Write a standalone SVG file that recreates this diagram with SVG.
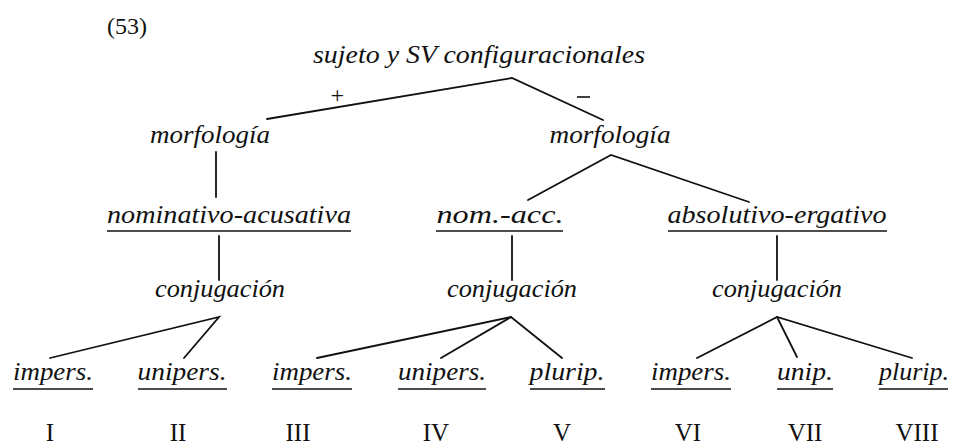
<svg xmlns="http://www.w3.org/2000/svg" width="953" height="447" viewBox="0 0 953 447">
<style>
.t{font-family:"Liberation Serif","Times New Roman",serif;font-style:italic;font-size:26px;fill:#111;text-anchor:middle}
.r{font-family:"Liberation Serif","Times New Roman",serif;font-size:25px;fill:#111;text-anchor:middle}
.e{stroke:#111;stroke-width:1.8;fill:none;stroke-linecap:round}
.u{stroke:#111;stroke-width:1.6}
</style>
<rect width="953" height="447" fill="#fff"/>
<text class="r" x="127" y="34" style="font-size:24px">(53)</text>
<g id="connectors">
<polyline class="e" points="267,119 512,78 603,120"/>
<line class="e" x1="216" y1="152" x2="216" y2="197"/>
<line class="e" x1="219" y1="236" x2="219" y2="280"/>
<polyline class="e" points="528,200 611,155 749,202"/>
<line class="e" x1="512" y1="236" x2="512" y2="280"/>
<line class="e" x1="777" y1="236" x2="777" y2="280"/>
<polyline class="e" points="50,358 219,317 184,358"/>
<polyline class="e" points="317,358 511,317 562,358"/>
<line class="e" x1="511" y1="317" x2="441" y2="358"/>
<polyline class="e" points="697,358 777,317 912,358"/>
<line class="e" x1="777" y1="317" x2="797" y2="357"/>
</g>
<g id="root"><text class="t" x="479" y="63" textLength="332" lengthAdjust="spacingAndGlyphs">sujeto y SV configuracionales</text></g>
<g id="plus"><text class="r" x="337" y="103" style="font-size:24px;font-style:italic">+</text></g>
<g id="minus"><line class="u" x1="577" y1="97" x2="590" y2="97"/></g>
<g id="morf1"><text class="t" x="210" y="143" textLength="120" lengthAdjust="spacingAndGlyphs">morfología</text></g>
<g id="morf2"><text class="t" x="610" y="143" textLength="121" lengthAdjust="spacingAndGlyphs">morfología</text></g>
<g id="nomacus"><text class="t" x="229" y="223" textLength="244" lengthAdjust="spacingAndGlyphs">nominativo-acusativa</text><line class="u" x1="107" y1="231" x2="351" y2="231"/></g>
<g id="nomacc"><text class="t" x="500" y="223" textLength="127" lengthAdjust="spacingAndGlyphs">nom.-acc.</text><line class="u" x1="436" y1="231" x2="563" y2="231"/></g>
<g id="abserg"><text class="t" x="777" y="223" textLength="219" lengthAdjust="spacingAndGlyphs">absolutivo-ergativo</text><line class="u" x1="668" y1="231" x2="887" y2="231"/></g>
<g id="conj1"><text class="t" x="220" y="297" textLength="130" lengthAdjust="spacingAndGlyphs">conjugación</text></g>
<g id="conj2"><text class="t" x="512" y="297" textLength="130" lengthAdjust="spacingAndGlyphs">conjugación</text></g>
<g id="conj3"><text class="t" x="777" y="297" textLength="130" lengthAdjust="spacingAndGlyphs">conjugación</text></g>
<g id="l1"><text class="t" x="53" y="380" textLength="80" lengthAdjust="spacingAndGlyphs">impers.</text><line class="u" x1="13" y1="389" x2="93" y2="389"/></g>
<g id="l2"><text class="t" x="182" y="380" textLength="89" lengthAdjust="spacingAndGlyphs">unipers.</text><line class="u" x1="138" y1="389" x2="227" y2="389"/></g>
<g id="l3"><text class="t" x="312" y="380" textLength="80" lengthAdjust="spacingAndGlyphs">impers.</text><line class="u" x1="272" y1="389" x2="352" y2="389"/></g>
<g id="l4"><text class="t" x="442" y="380" textLength="88" lengthAdjust="spacingAndGlyphs">unipers.</text><line class="u" x1="398" y1="389" x2="486" y2="389"/></g>
<g id="l5"><text class="t" x="567" y="380" textLength="75" lengthAdjust="spacingAndGlyphs">plurip.</text><line class="u" x1="530" y1="389" x2="605" y2="389"/></g>
<g id="l6"><text class="t" x="691" y="380" textLength="80" lengthAdjust="spacingAndGlyphs">impers.</text><line class="u" x1="651" y1="389" x2="731" y2="389"/></g>
<g id="l7"><text class="t" x="805" y="380" textLength="56" lengthAdjust="spacingAndGlyphs">unip.</text><line class="u" x1="777" y1="389" x2="833" y2="389"/></g>
<g id="l8"><text class="t" x="914" y="380" textLength="70" lengthAdjust="spacingAndGlyphs">plurip.</text><line class="u" x1="879" y1="389" x2="948" y2="389"/></g>
<g id="nums">
<text class="r" x="50" y="441">I</text>
<text class="r" x="178" y="441">II</text>
<text class="r" x="298" y="441">III</text>
<text class="r" x="436" y="441">IV</text>
<text class="r" x="562" y="441">V</text>
<text class="r" x="688" y="441">VI</text>
<text class="r" x="805" y="441">VII</text>
<text class="r" x="917" y="441">VIII</text>
</g>
</svg>
